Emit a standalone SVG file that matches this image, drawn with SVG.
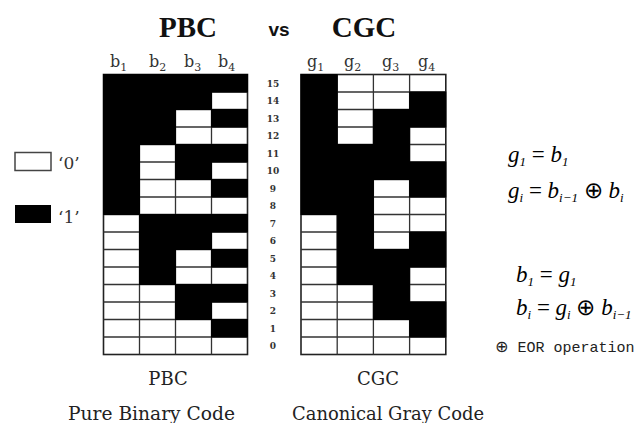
<svg xmlns="http://www.w3.org/2000/svg" width="641" height="423" viewBox="0 0 641 423">
<style>
.bg{fill:#fff;stroke:#222;stroke-width:1.6}
.ln{stroke:#333;stroke-width:1.3;fill:none}
.blk{fill:#000;stroke:#000;stroke-width:1}
.title{font-family:"Liberation Serif",serif;font-weight:bold;font-size:29px;fill:#111}
.vs{font-family:"Liberation Sans",sans-serif;font-weight:bold;font-size:19px;fill:#111}
.hd{font-family:"DejaVu Serif",serif;font-size:16px;fill:#333}
.sub{font-size:11px}
.num{font-family:"DejaVu Serif",serif;font-weight:bold;font-size:9px;fill:#333;text-anchor:middle}
.lbl{font-family:"DejaVu Serif",serif;font-size:18px;fill:#222}
.leg{font-family:"DejaVu Serif",serif;font-size:17px;fill:#333}
.f{font-family:"Liberation Serif",serif;font-style:italic;font-size:23px;fill:#000}
.fs{font-size:13px}
.fn{font-family:"Liberation Serif",serif;font-style:normal}
.eor{font-family:"Liberation Mono",monospace;font-size:15px;fill:#222}
</style>
<rect width="641" height="423" fill="#fff"/>
<text class="title" x="188" y="37" text-anchor="middle">PBC</text>
<text class="vs" x="279" y="36" text-anchor="middle">vs</text>
<text class="title" x="364" y="37" text-anchor="middle">CGC</text>

<g id="pbc">
<rect class="bg" x="103.5" y="74.5" width="144" height="280"/>
<path class="ln" d="M103.5 92H247.5M103.5 109.5H247.5M103.5 127H247.5M103.5 144.5H247.5M103.5 162H247.5M103.5 179.5H247.5M103.5 197H247.5M103.5 214.5H247.5M103.5 232H247.5M103.5 249.5H247.5M103.5 267H247.5M103.5 284.5H247.5M103.5 302H247.5M103.5 319.5H247.5M103.5 337H247.5M139.5 74.5V354.5M175.5 74.5V354.5M211.5 74.5V354.5"/>
<rect class="blk" x="103.5" y="74.5" width="36" height="140"/>
<rect class="blk" x="139.5" y="74.5" width="36" height="70"/>
<rect class="blk" x="139.5" y="214.5" width="36" height="70"/>
<rect class="blk" x="175.5" y="74.5" width="36" height="35"/>
<rect class="blk" x="175.5" y="144.5" width="36" height="35"/>
<rect class="blk" x="175.5" y="214.5" width="36" height="35"/>
<rect class="blk" x="175.5" y="284.5" width="36" height="35"/>
<rect class="blk" x="211.5" y="74.5" width="36" height="17.5"/>
<rect class="blk" x="211.5" y="109.5" width="36" height="17.5"/>
<rect class="blk" x="211.5" y="144.5" width="36" height="17.5"/>
<rect class="blk" x="211.5" y="179.5" width="36" height="17.5"/>
<rect class="blk" x="211.5" y="214.5" width="36" height="17.5"/>
<rect class="blk" x="211.5" y="249.5" width="36" height="17.5"/>
<rect class="blk" x="211.5" y="284.5" width="36" height="17.5"/>
<rect class="blk" x="211.5" y="319.5" width="36" height="17.5"/>
<text class="hd" x="110" y="67">b<tspan class="sub" dy="4">1</tspan></text>
<text class="hd" x="149" y="67">b<tspan class="sub" dy="4">2</tspan></text>
<text class="hd" x="184" y="67">b<tspan class="sub" dy="4">3</tspan></text>
<text class="hd" x="218" y="67">b<tspan class="sub" dy="4">4</tspan></text>
</g>

<g id="cgc">
<rect class="bg" x="301" y="74.5" width="144.8" height="280"/>
<path class="ln" d="M301 92H445.8M301 109.5H445.8M301 127H445.8M301 144.5H445.8M301 162H445.8M301 179.5H445.8M301 197H445.8M301 214.5H445.8M301 232H445.8M301 249.5H445.8M301 267H445.8M301 284.5H445.8M301 302H445.8M301 319.5H445.8M301 337H445.8M337.2 74.5V354.5M373.4 74.5V354.5M409.6 74.5V354.5"/>
<rect class="blk" x="301" y="74.5" width="36.2" height="140"/>
<rect class="blk" x="337.2" y="144.5" width="36.2" height="140"/>
<rect class="blk" x="373.4" y="109.5" width="36.2" height="70"/>
<rect class="blk" x="373.4" y="249.5" width="36.2" height="70"/>
<rect class="blk" x="409.6" y="92" width="36.2" height="35"/>
<rect class="blk" x="409.6" y="162" width="36.2" height="35"/>
<rect class="blk" x="409.6" y="232" width="36.2" height="35"/>
<rect class="blk" x="409.6" y="302" width="36.2" height="35"/>
<text class="hd" x="307" y="67">g<tspan class="sub" dy="4">1</tspan></text>
<text class="hd" x="344" y="67">g<tspan class="sub" dy="4">2</tspan></text>
<text class="hd" x="382" y="67">g<tspan class="sub" dy="4">3</tspan></text>
<text class="hd" x="418" y="67">g<tspan class="sub" dy="4">4</tspan></text>
</g>

<g id="numbers">
<text class="num" x="273" y="86.5">15</text>
<text class="num" x="273" y="104">14</text>
<text class="num" x="273" y="121.5">13</text>
<text class="num" x="273" y="139">12</text>
<text class="num" x="273" y="156.5">11</text>
<text class="num" x="273" y="174">10</text>
<text class="num" x="273" y="191.5">9</text>
<text class="num" x="273" y="209">8</text>
<text class="num" x="273" y="226.5">7</text>
<text class="num" x="273" y="244">6</text>
<text class="num" x="273" y="261.5">5</text>
<text class="num" x="273" y="279">4</text>
<text class="num" x="273" y="296.5">3</text>
<text class="num" x="273" y="314">2</text>
<text class="num" x="273" y="331.5">1</text>
<text class="num" x="273" y="349">0</text>
</g>

<g id="legend">
<rect x="15" y="152.5" width="36" height="18" fill="#fff" stroke="#444" stroke-width="1.5"/>
<text class="leg" x="58" y="169">‘0’</text>
<rect x="15" y="205" width="36" height="18" fill="#000"/>
<text class="leg" x="58" y="223">‘1’</text>
</g>

<g id="formulas">
<text class="f" x="508" y="162">g<tspan class="fs" dy="4">1</tspan><tspan class="fn" dy="-4"> = </tspan>b<tspan class="fs" dy="4">1</tspan></text>
<text class="f" x="508" y="198">g<tspan class="fs" dy="4">i</tspan><tspan class="fn" dy="-4"> = </tspan>b<tspan class="fs" dy="4">i−1</tspan><tspan class="fn" dy="-4"> ⊕ </tspan>b<tspan class="fs" dy="4">i</tspan></text>
<text class="f" x="516" y="282">b<tspan class="fs" dy="4">1</tspan><tspan class="fn" dy="-4"> = </tspan>g<tspan class="fs" dy="4">1</tspan></text>
<text class="f" x="516" y="315">b<tspan class="fs" dy="4">i</tspan><tspan class="fn" dy="-4"> =  </tspan>g<tspan class="fs" dy="4">i</tspan><tspan class="fn" dy="-4"> ⊕ </tspan>b<tspan class="fs" dy="4">i−1</tspan></text>
<text class="eor" x="495" y="352"><tspan font-family="DejaVu Sans" font-size="16px">⊕</tspan> EOR operation</text>
</g>

<g id="captions">
<text class="lbl" x="168" y="385" text-anchor="middle">PBC</text>
<text class="lbl" x="378" y="385" text-anchor="middle">CGC</text>
<text class="lbl" x="68" y="420" textLength="167" lengthAdjust="spacingAndGlyphs">Pure Binary Code</text>
<text class="lbl" x="292" y="420" textLength="192" lengthAdjust="spacingAndGlyphs">Canonical Gray Code</text>
</g>
</svg>
